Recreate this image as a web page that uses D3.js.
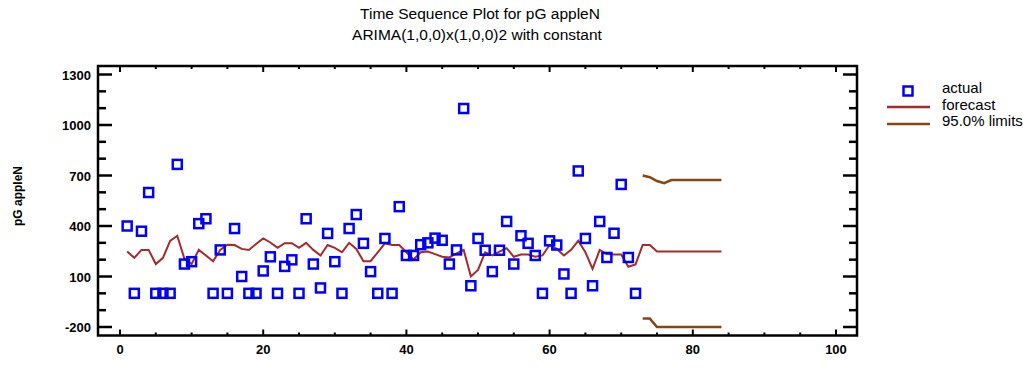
<!DOCTYPE html>
<html>
<head>
<meta charset="utf-8">
<script src="https://d3js.org/d3.v7.min.js"></script>
<style>
  body { margin: 0; background: #fff; }
  text { font-family: "Liberation Sans", Arial, sans-serif; }
</style>
</head>
<body>
<script>

// observed values, periods 1..72
var actual = [400, 0, 369, 599, 0, 0, 0, 766, 174, 188, 414, 443, 0, 258, 0, 385, 100, 0, 0, 133,
              217, 0, 160, 199, 0, 443, 174, 32, 356, 188, 0, 385, 468, 297, 129, 0, 326, 0, 515, 225,
              225, 289, 300, 328, 315, 174, 258, 1098, 45, 326, 256, 129, 256, 427, 174, 342, 297, 225, 0, 312,
              287, 115, 0, 727, 326, 45, 427, 213, 357, 647, 213, 0];

// one-step-ahead fitted values, periods 1..72
var fitted = [248, 211, 258, 258, 174, 211, 312, 342, 205, 174, 258, 225, 191, 258, 289, 287, 264, 258, 293, 326,
              302, 270, 298, 298, 270, 300, 258, 225, 287, 270, 244, 300, 264, 191, 191, 244, 297, 287, 287, 244,
              201, 244, 248, 233, 217, 213, 238, 258, 100, 139, 244, 225, 248, 268, 217, 231, 231, 217, 225, 287,
              264, 225, 258, 312, 244, 145, 258, 233, 231, 231, 158, 172];

// forecasts, periods 73..84
var forecast = [287, 287, 248, 248, 248, 248, 248, 248, 248, 248, 248, 248];
var upper    = [700, 690, 667, 654, 673, 673, 673, 673, 673, 673, 673, 673];
var lower    = [-150, -150, -200, -200, -200, -200, -200, -200, -200, -200, -200, -200];

var xTicks = [0, 20, 40, 60, 80, 100];
var yTicks = [-200, 100, 400, 700, 1000, 1300];

var W = 1030, H = 375;

var svg = d3.select("body").append("svg")
    .attr("width", W)
    .attr("height", H);

var x = d3.scaleLinear().domain([0, 100]).range([120, 836]);
var y = d3.scaleLinear().domain([-200, 1300]).range([327, 74.5]);

// plot frame edges
var fL = 98, fR = 857, fT = 66, fB = 335.5;

// titles
svg.append("text")
   .attr("x", 480).attr("y", 19)
   .attr("text-anchor", "middle")
   .style("font-size", "15.5px")
   .text("Time Sequence Plot for pG appleN");

svg.append("text")
   .attr("x", 477).attr("y", 40)
   .attr("text-anchor", "middle")
   .style("font-size", "15.5px")
   .text("ARIMA(1,0,0)x(1,0,0)2 with constant");

// y axis title
svg.append("text")
   .attr("transform", "translate(22,196) rotate(-90)")
   .attr("text-anchor", "middle")
   .style("font-size", "12px")
   .style("font-weight", "bold")
   .text("pG appleN");

// frame
svg.append("rect")
   .attr("x", fL).attr("y", fT)
   .attr("width", fR - fL).attr("height", fB - fT)
   .attr("fill", "none")
   .attr("stroke", "#000")
   .attr("stroke-width", 2.5);

var g = svg.append("g");

// y ticks, major every 300, minor every 100
d3.range(-200, 1301, 100).forEach(function(v) {
  var major = yTicks.indexOf(v) >= 0;
  var len = major ? 14 : 8;
  g.append("line").attr("x1", fL).attr("x2", fL + len)
   .attr("y1", y(v)).attr("y2", y(v))
   .attr("stroke", "#000").attr("stroke-width", 2.5);
  g.append("line").attr("x1", fR).attr("x2", fR - len)
   .attr("y1", y(v)).attr("y2", y(v))
   .attr("stroke", "#000").attr("stroke-width", 2.5);
});

svg.selectAll(".ylab")
   .data(yTicks).enter()
   .append("text")
   .attr("class", "ylab")
   .attr("x", 91)
   .attr("y", function(d) { return y(d) + 5; })
   .attr("text-anchor", "end")
   .style("font-size", "13px")
   .style("font-weight", "bold")
   .text(function(d) { return d; });

// x ticks, major every 20, minor every 5
d3.range(0, 101, 5).forEach(function(v) {
  var major = xTicks.indexOf(v) >= 0;
  var len = major ? 6 : 3;
  g.append("line").attr("x1", x(v)).attr("x2", x(v))
   .attr("y1", fB).attr("y2", fB - len)
   .attr("stroke", "#000").attr("stroke-width", 2);
  g.append("line").attr("x1", x(v)).attr("x2", x(v))
   .attr("y1", fT).attr("y2", fT + len)
   .attr("stroke", "#000").attr("stroke-width", 2);
});

svg.selectAll(".xlab")
   .data(xTicks).enter()
   .append("text")
   .attr("class", "xlab")
   .attr("x", function(d) { return x(d); })
   .attr("y", 354)
   .attr("text-anchor", "middle")
   .style("font-size", "13px")
   .style("font-weight", "bold")
   .text(function(d) { return d; });

// fitted + forecast line
var fc = fitted.map(function(v, i) { return [i + 1, v]; })
               .concat(forecast.map(function(v, i) { return [i + 73, v]; }));
var line = d3.line().x(function(d) { return x(d[0]); }).y(function(d) { return y(d[1]); });

svg.append("path")
   .datum(fc)
   .attr("d", line)
   .attr("fill", "none")
   .attr("stroke", "#a52a2a")
   .attr("stroke-width", 2);

[upper, lower].forEach(function(arr) {
  svg.append("path")
     .datum(arr.map(function(v, i) { return [i + 73, v]; }))
     .attr("d", line)
     .attr("fill", "none")
     .attr("stroke", "#8b4513")
     .attr("stroke-width", 2.5);
});

// actual points
svg.selectAll(".pt")
   .data(actual).enter()
   .append("rect")
   .attr("class", "pt")
   .attr("x", function(d, i) { return x(i + 1) - 4.5; })
   .attr("y", function(d) { return y(d) - 4.5; })
   .attr("width", 9).attr("height", 9)
   .attr("fill", "none")
   .attr("stroke", "#0000ff")
   .attr("stroke-width", 2.5);

// legend
var lg = svg.append("g");
lg.append("rect")
  .attr("x", 903.5).attr("y", 86.5).attr("width", 9).attr("height", 9)
  .attr("fill", "none").attr("stroke", "#0000ff").attr("stroke-width", 2.5);
lg.append("line").attr("x1", 887).attr("x2", 930).attr("y1", 107).attr("y2", 107)
  .attr("stroke", "#a52a2a").attr("stroke-width", 2.5);
lg.append("line").attr("x1", 887).attr("x2", 930).attr("y1", 124).attr("y2", 124)
  .attr("stroke", "#8b4513").attr("stroke-width", 2.5);

var legendText = ["actual", "forecast", "95.0% limits"];
lg.selectAll("text")
  .data(legendText).enter()
  .append("text")
  .attr("x", 942)
  .attr("y", function(d, i) { return 93 + i * 16.5; })
  .style("font-size", "15px")
  .text(function(d) { return d; });

</script>
</body>
</html>
